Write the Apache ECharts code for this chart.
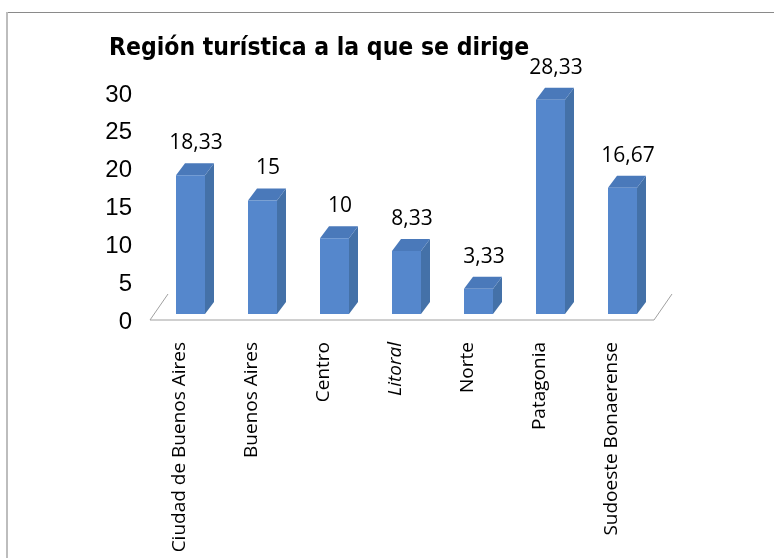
<!DOCTYPE html>
<html>
<head>
<meta charset="utf-8">
<script src="https://cdn.jsdelivr.net/npm/echarts@6/dist/echarts.min.js"></script>
<style>
html, body { margin: 0; padding: 0; background: #fff; }
#chart { width: 774px; height: 558px; }
</style>
</head>
<body>
<div id="chart"></div>
<script>
// datos
const categories = ['Ciudad de Buenos Aires', 'Buenos Aires', 'Centro', 'Litoral', 'Norte', 'Patagonia', 'Sudoeste Bonaerense'];
const values = [18.33, 15, 10, 8.33, 3.33, 28.33, 16.67];
const yTicks = [0, 5, 10, 15, 20, 25, 30];

// estilo de las barras 3D
const FRONT = '#5587cc', SIDE = '#4471a8', TOP = '#4a79ba';
const DX = 9, DY = -12;
// piso
const FLOOR_DX = 18, FLOOR_DY = -26, FLOOR_DROP = 6;

const chart = echarts.init(document.getElementById('chart'));

function fmt(v) {
  return String(v).replace('.', ',');
}

function renderBar(params, api) {
  const i = api.value(0), v = api.value(1);
  const base = api.coord([i, 0]);
  const top = api.coord([i, v]);
  const cx = base[0];
  const l = cx - 10, r = cx + 19;
  const yb = base[1], yt = top[1];
  return {
    type: 'group',
    children: [
      { type: 'polygon', shape: { points: [[r, yb], [r + DX, yb + DY], [r + DX, yt + DY], [r, yt]] }, style: { fill: SIDE } },
      { type: 'polygon', shape: { points: [[l, yt], [r, yt], [r + DX, yt + DY], [l + DX, yt + DY]] }, style: { fill: TOP } },
      { type: 'rect', shape: { x: l, y: yt, width: r - l, height: yb - yt }, style: { fill: FRONT } },
      { type: 'text', x: cx + 10, y: yt - 32, style: { text: fmt(v), fill: '#000', font: '21px "Open Sans"', align: 'center', verticalAlign: 'middle' } }
    ]
  };
}

function renderFloor(params, api) {
  const cs = params.coordSys;
  const y0 = cs.y + cs.height + FLOOR_DROP;
  const x0 = cs.x, x1 = cs.x + cs.width;
  const st = { stroke: '#a0a0a0', lineWidth: 1 };
  return {
    type: 'group',
    children: [
      { type: 'line', shape: { x1: x0, y1: y0, x2: x1, y2: y0 }, style: st },
      { type: 'line', shape: { x1: x0, y1: y0, x2: x0 + FLOOR_DX, y2: y0 + FLOOR_DY }, style: st },
      { type: 'line', shape: { x1: x1, y1: y0, x2: x1 + FLOOR_DX, y2: y0 + FLOOR_DY }, style: st }
    ]
  };
}

const option = {
  animation: false,
  title: {
    text: 'Región turística a la que se dirige',
    left: 104,
    top: 31,
    textStyle: { fontFamily: '"Liberation Sans Narrow", "DejaVu Sans Condensed", sans-serif', fontWeight: 'bold', fontSize: 24.5, color: '#000' }
  },
  grid: { left: 150, right: 120, top: 87, bottom: 244 },
  xAxis: {
    type: 'category',
    data: categories,
    axisLine: { show: false },
    axisTick: { show: false },
    axisLabel: {
      interval: 0,
      rotate: 90,
      margin: 28,
      fontSize: 19,
      lineHeight: 12,
      verticalAlign: 'bottom',
      fontFamily: '"Open Sans"',
      color: '#000',
      formatter: function (s) { return s === 'Litoral' ? '{it|' + s + '}' : s; },
      rich: { it: { fontStyle: 'italic', fontSize: 19, lineHeight: 12, fontFamily: '"Open Sans"', color: '#000' } }
    }
  },
  yAxis: {
    type: 'value',
    min: yTicks[0],
    max: yTicks[yTicks.length - 1],
    interval: 5,
    axisLine: { show: false },
    axisTick: { show: false },
    splitLine: { show: false },
    axisLabel: { fontSize: 24, fontFamily: '"Liberation Sans"', color: '#000', margin: 18, verticalAlign: 'top', lineHeight: 16 }
  },
  series: [
    { type: 'custom', renderItem: renderFloor, data: [[0, 0]], clip: false, silent: true, z: 1 },
    { type: 'custom', renderItem: renderBar, data: values.map((v, i) => [i, v]), encode: { x: 0, y: 1 }, clip: false, z: 2 }
  ],
  graphic: [
    { type: 'line', shape: { x1: 6, y1: 12.5, x2: 774, y2: 12.5 }, style: { stroke: '#8a8a8a', lineWidth: 1 } },
    { type: 'line', shape: { x1: 7, y1: 12, x2: 7, y2: 558 }, style: { stroke: '#bdbdbd', lineWidth: 2 } }
  ]
};

chart.setOption(option);
</script>
</body>
</html>
